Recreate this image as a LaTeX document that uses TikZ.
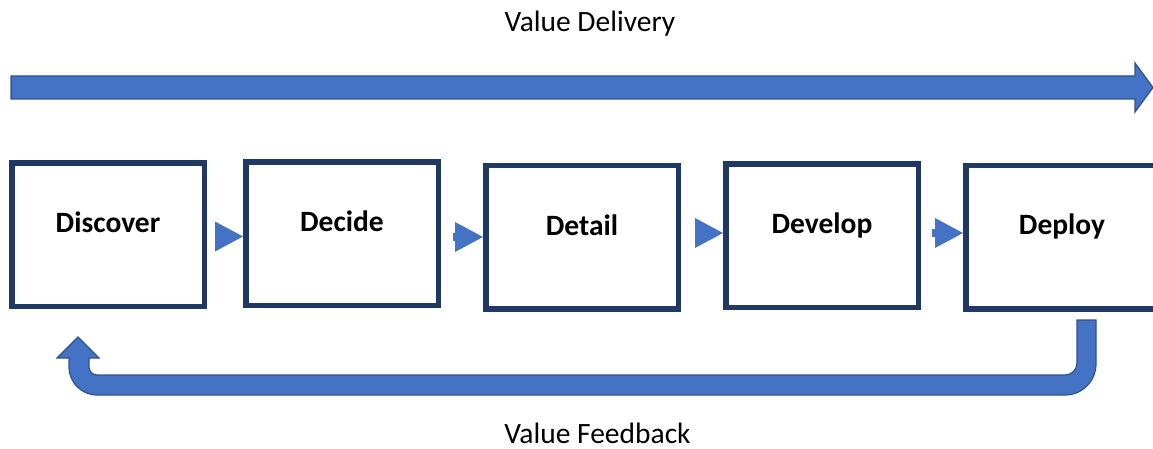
\documentclass[tikz,border=0pt]{standalone}
\usepackage{fontspec}
\setmainfont{Carlito}
\usetikzlibrary{arrows.meta}
\definecolor{flowblue}{HTML}{4472C4}
\definecolor{flowedge}{HTML}{2F528F}
\definecolor{navy}{HTML}{1F3864}
\tikzset{
  stagebox/.style={draw=navy, fill=white, line width=5.5pt, inner sep=0pt,
    minimum width=192.5pt, minimum height=143.5pt},
  stagetext/.style={anchor=base, inner sep=0pt, font=\fontsize{29.5}{33}\selectfont\bfseries},
  caption/.style={anchor=base, inner sep=0pt, font=\fontsize{29.5}{33}\selectfont},
  bigarrow/.style={fill=flowblue, draw=flowedge, line width=1.2pt, line join=miter},
  flow/.style={draw=flowblue, line width=8pt,
    -{Triangle[length=28pt, width=30pt, line width=0pt]}}
}
\begin{document}
\begin{tikzpicture}[x=1pt, y=1pt]
\useasboundingbox (0,0) rectangle (1153,448);

% stage boxes
\node[stagebox] (discover) at (108,213.5) {};
\node[stagebox] (decide)   at (342,214.5) {};
\node[stagebox] (detail)   at (582,211)   {};
\node[stagebox] (develop)  at (822,212.5) {};
\node[stagebox] (deploy)   at (1062,211)  {};

% stage names
\node[stagetext] (tdiscover) at ([yshift=2pt]discover.center) {Discover};
\node[stagetext] (tdecide)   at ([yshift=2pt]decide.center)   {Decide};
\node[stagetext] (tdetail)   at ([yshift=2pt]detail.center)   {Detail};
\node[stagetext] (tdevelop)  at ([yshift=2pt]develop.center)  {Develop};
\node[stagetext] (tdeploy)   at ([yshift=3pt]deploy.center)   {Deploy};

% hand-offs between stages
\draw[flow] ([xshift=8pt]discover.east |- 0,211.5) -- (decide.west |- 0,211.5);
\draw[flow] ([xshift=12pt]decide.east |- 0,211) -- (detail.west |- 0,211);
\draw[flow] ([xshift=14pt]detail.east |- 0,215) -- (develop.west |- 0,215);
\draw[flow] ([xshift=11pt]develop.east |- 0,215) -- (deploy.west |- 0,215);

% value delivery arrow
\path[bigarrow] (11,372) -- (1135,372) -- (1135,385) -- (1153,360.5)
  -- (1135,336) -- (1135,349) -- (11,349) -- cycle;
\node[caption] (delivery) at (590,416) {Value Delivery};

% value feedback arrow
\path[bigarrow] (1077,128) -- (1096,128) -- (1096,84)
  arc[start angle=0, end angle=-90, radius=31pt] -- (97,53)
  arc[start angle=270, end angle=180, radius=28pt] -- (69,90)
  -- (57,90) -- (78,111) -- (99,90) -- (89,90) -- (89,81)
  arc[start angle=180, end angle=270, radius=8pt] -- (1065,73)
  arc[start angle=270, end angle=360, radius=12pt] -- cycle;
\node[caption] (feedback) at (597.5,5) {Value Feedback};
\end{tikzpicture}
\end{document}
